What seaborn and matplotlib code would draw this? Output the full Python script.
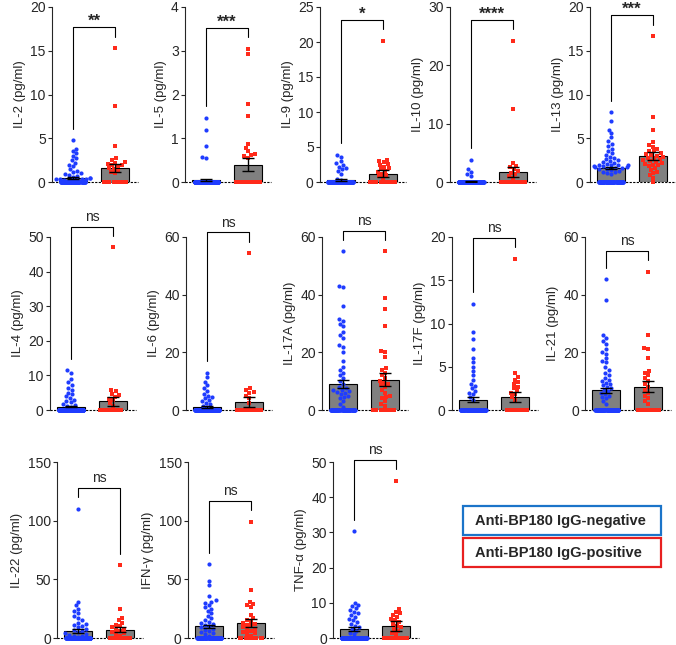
import warnings
import numpy as np
import pandas as pd
import matplotlib
matplotlib.use("Agg")
import matplotlib.pyplot as plt
import seaborn as sns
from matplotlib.patches import Rectangle

warnings.filterwarnings("ignore")
np.random.seed(3)

groups = ["Anti-BP180 IgG-negative", "Anti-BP180 IgG-positive"]

# values per cytokine (zeros + read-off non-zero points)
il2_neg = [0.0]*72 + [4.8, 3.8, 3.6, 3.3, 3.0, 2.7, 2.5, 2.2, 2.0, 1.8, 1.5, 1.3, 1.2, 1.0,
                      0.9, 0.8, 0.7, 0.6, 0.5, 0.5, 0.4, 0.4, 0.3, 0.3, 0.2, 0.2, 0.1, 0.1]
il2_pos = [0.0]*18 + [15.3, 8.7, 4.1, 2.7, 2.5, 2.3, 2.2, 2.1, 2.0, 1.9, 1.8, 1.6, 1.5, 1.3, 1.2, 1.0]
il5_neg = [0.0]*95 + [1.47, 1.18, 0.82, 0.58, 0.55]
il5_pos = [0.0]*24 + [3.05, 2.93, 1.78, 1.52, 0.88, 0.78, 0.70, 0.65, 0.62, 0.60, 0.55]
il9_neg = [0.0]*88 + [3.9, 3.6, 3.0, 2.7, 2.4, 2.2, 2.0, 1.8, 1.6, 1.2, 0.5, 0.3]
il9_pos = [0.0]*20 + [20.2, 3.2, 3.0, 2.8, 2.6, 2.4, 2.2, 2.0, 1.8, 1.6, 1.4, 1.2, 1.0, 0.8, 0.6]
il10_neg = [0.0]*95 + [3.8, 2.3, 1.8, 1.4, 1.0]
il10_pos = [0.0]*24 + [24.2, 12.5, 3.3, 2.8, 2.6, 2.2, 1.9, 1.6, 1.3, 1.0, 0.7]
il13_neg = [0.0]*60 + [8.0, 7.0, 6.0, 5.6, 5.1, 4.7, 4.4, 4.1, 3.8, 3.5, 3.3, 3.1, 2.9, 2.7,
                       2.6, 2.5, 2.4, 2.3, 2.2, 2.1, 2.0, 2.0, 1.9, 1.9, 1.8, 1.8, 1.7, 1.7,
                       1.6, 1.6, 1.5, 1.5, 1.4, 1.3, 1.2, 1.1, 1.0, 0.9]
il13_pos = [0.0]*1 + [16.7, 7.4, 5.9, 4.6, 4.2, 4.0, 3.8, 3.6, 3.5, 3.3, 3.2, 3.1, 3.0, 2.9,
                      2.8, 2.7, 2.6, 2.5, 2.4, 2.3, 2.2, 2.1, 2.0, 1.9, 1.8, 1.6, 1.4, 1.2,
                      1.0, 0.8, 0.5]
il4_neg = [0.0]*82 + [11.5, 10.8, 9.0, 8.0, 7.2, 6.5, 5.8, 5.0, 4.5, 4.0, 3.5, 3.0, 2.6, 2.2,
                      1.8, 1.5, 1.2, 1.0]
il4_pos = [0.0]*25 + [47.0, 5.8, 5.4, 4.7, 4.2, 3.8, 3.3, 2.8, 2.0, 1.2]
il6_neg = [0.0]*84 + [13.0, 11.5, 9.8, 8.5, 7.5, 6.5, 5.5, 5.0, 4.5, 4.0, 3.5, 3.0, 2.5, 2.0, 1.5, 1.0]
il6_pos = [0.0]*27 + [54.5, 7.5, 6.8, 6.2, 5.8, 5.0, 4.0, 2.5]
il17a_neg = [0.0]*64 + [55, 43, 42.5, 36, 31.5, 31, 30, 29, 27, 26, 25, 22.5, 22, 20, 17, 15,
                        14, 13, 12, 11, 10, 9, 8, 7.5, 7, 6.8, 6.5, 6.3, 6, 5.5, 5, 4.5, 4, 3, 2, 1]
il17a_pos = [0.0]*10 + [55, 39, 35, 29, 20.5, 20, 18.5, 14.5, 14, 13, 12, 11, 10, 9.5, 9, 8.5,
                        8, 7, 6, 5, 4.5, 4, 3, 2, 1.5]
il17f_neg = [0.0]*82 + [12.3, 9.0, 8.2, 7.0, 6.0, 5.5, 5.0, 4.5, 4.0, 3.5, 3.0, 2.8, 2.5, 2.2,
                        2.0, 1.8, 1.5, 1.2]
il17f_pos = [0.0]*22 + [17.5, 4.3, 3.8, 3.5, 3.2, 3.0, 2.7, 2.5, 2.2, 2.0, 1.8, 1.5, 1.2]
il21_neg = [0.0]*67 + [45.5, 38, 26, 25, 24, 23, 21, 20, 19.5, 18, 17, 16.5, 15, 14, 13, 12, 11,
                       10.5, 10, 9.5, 9, 8.5, 8, 7.5, 7, 6.5, 6, 5.5, 5, 4.5, 4, 3, 2]
il21_pos = [0.0]*17 + [48, 26, 21.5, 21, 18, 13.5, 13, 12, 11, 10, 9, 8, 7, 6, 5, 4, 3, 2]
il22_neg = [0.0]*76 + [110, 31, 28, 25, 23, 21, 19, 17, 15, 13, 12, 11, 10, 9, 8, 7, 6, 5, 4, 3,
                       2.5, 2, 1.5, 1]
il22_pos = [0.0]*20 + [62, 25, 17, 15, 13, 11, 10, 9, 8, 7, 6, 5, 4, 3, 2]
ifng_neg = [0.0]*72 + [63, 49, 45, 36, 32, 31, 30, 28, 26, 25, 23, 21, 19, 17, 15, 14, 13, 12,
                       11, 10, 9, 8, 7, 6, 5, 4, 3, 2]
ifng_pos = [0.0]*13 + [99, 41, 31, 29, 28, 26, 20, 17, 15, 14, 13, 12, 11, 10, 9, 8, 7, 6, 5, 4, 3, 2]
tnfa_neg = [0.0]*80 + [30.3, 10, 9.5, 9, 8.5, 8, 7.5, 7, 6.5, 6, 5.5, 5, 4.5, 4, 3.5, 3, 2.5, 2, 1.5, 1]
tnfa_pos = [0.0]*19 + [44.7, 8.3, 7.5, 7, 6.5, 6, 5.5, 5, 4.5, 4, 3.5, 3, 2.5, 2, 1.5, 1]

ylabels = ["IL-2 (pg/ml)", "IL-5 (pg/ml)", "IL-9 (pg/ml)", "IL-10 (pg/ml)", "IL-13 (pg/ml)",
           "IL-4 (pg/ml)", "IL-6 (pg/ml)", "IL-17A (pg/ml)", "IL-17F (pg/ml)", "IL-21 (pg/ml)",
           "IL-22 (pg/ml)", "IFN-\u03b3 (pg/ml)", "TNF-\u03b1 (pg/ml)"]
neg_vals = [il2_neg, il5_neg, il9_neg, il10_neg, il13_neg, il4_neg, il6_neg, il17a_neg,
            il17f_neg, il21_neg, il22_neg, ifng_neg, tnfa_neg]
pos_vals = [il2_pos, il5_pos, il9_pos, il10_pos, il13_pos, il4_pos, il6_pos, il17a_pos,
            il17f_pos, il21_pos, il22_pos, ifng_pos, tnfa_pos]
bar_neg = [0.5, 0.05, 0.3, 0.1, 1.6, 1.0, 1.0, 9.0, 1.2, 6.8, 6.0, 10.0, 2.5]
bar_pos = [1.6, 0.4, 1.2, 1.7, 3.0, 2.5, 2.8, 10.5, 1.5, 8.0, 7.0, 13.0, 3.5]
sem_neg = [0.12, 0.02, 0.1, 0.05, 0.17, 0.25, 0.25, 1.5, 0.25, 1.0, 1.5, 1.3, 0.5]
sem_pos = [0.5, 0.14, 0.55, 0.8, 0.45, 1.3, 1.6, 2.3, 0.6, 1.9, 2.0, 3.2, 1.4]
y_max = [20, 4, 25, 30, 20, 50, 60, 60, 20, 60, 150, 150, 50]
y_step = [5, 1, 5, 10, 5, 10, 20, 20, 5, 20, 50, 50, 10]
sig = ["**", "***", "*", "****", "***", "ns", "ns", "ns", "ns", "ns", "ns", "ns", "ns"]

blue = "#1f3cff"
red = "#ff2a1a"

sns.set_style("ticks")
plt.rcParams["font.family"] = ["Liberation Sans", "DejaVu Sans"]

W, H = 676, 645
fig = plt.figure(figsize=(W / 100, H / 100), dpi=100)

lefts = [52, 185, 320, 450, 590, 50, 186, 322, 452, 585, 57, 188, 333]
rows = [(7, 182)] * 5 + [(237, 410)] * 5 + [(462, 638)] * 3
pw = 86

for i in range(13):
    top, bot = rows[i]
    ax = fig.add_axes([lefts[i] / W, (H - bot) / H, pw / W, (bot - top) / H])
    ymax = y_max[i]

    sns.barplot(x=groups, y=[bar_neg[i], bar_pos[i]], order=groups, color="#808080",
                width=0.68, edgecolor="black", linewidth=0.8, errorbar=None,
                ax=ax, zorder=2)

    df = pd.concat([pd.DataFrame({"group": groups[0], "value": neg_vals[i]}),
                    pd.DataFrame({"group": groups[1], "value": pos_vals[i]})])
    zeros = df[df["value"] == 0]
    nonzero = df[df["value"] > 0]
    for g, col, mk in [(groups[0], blue, "o"), (groups[1], red, "s")]:
        # zero values form a dense band across the bar
        sns.stripplot(data=zeros[zeros["group"] == g], x="group", y="value", order=groups,
                      color=col, size=3.2, marker=mk, linewidth=0, jitter=0.3,
                      ax=ax, zorder=3)
        sns.swarmplot(data=nonzero[nonzero["group"] == g], x="group", y="value",
                      order=groups, color=col, size=3.0, marker=mk, linewidth=0,
                      ax=ax, zorder=3)
    for c in ax.collections:
        c.set_clip_on(False)

    ax.errorbar([0, 1], [bar_neg[i], bar_pos[i]], yerr=[sem_neg[i], sem_pos[i]],
                fmt="none", ecolor="black", elinewidth=1, capsize=4, capthick=1, zorder=4)

    ax.axhline(0, color="black", lw=0.8, ls=(0, (2, 1.2)), zorder=1, clip_on=False)

    ax.set_xlim(-0.5, 1.55)
    ax.set_ylim(0, ymax)
    ax.set_yticks(np.arange(0, ymax + y_step[i] / 2, y_step[i]))
    ax.set_xticks([])
    ax.set_xlabel("")
    ax.set_ylabel(ylabels[i], fontsize=9.5, labelpad=3)
    ax.tick_params(axis="y", labelsize=10, length=3, width=0.8, pad=1.5)
    sns.despine(ax=ax, bottom=True)
    ax.spines["left"].set_linewidth(0.8)

    # significance bracket
    m_n = max(neg_vals[i])
    m_p = max(pos_vals[i])
    yb = max(m_n, m_p) + 0.12 * ymax
    ax.plot([0, 0, 1, 1], [m_n + 0.065 * ymax, yb, yb, m_p + 0.065 * ymax],
            color="black", lw=0.8, clip_on=False, zorder=5)
    if sig[i] == "ns":
        ax.text(0.5, yb + 0.015 * ymax, sig[i], ha="center", va="bottom", fontsize=10,
                clip_on=False)
    else:
        ax.text(0.5, yb - 0.01 * ymax, sig[i], ha="center", va="bottom", fontsize=12,
                fontweight="bold", clip_on=False)

# legend boxes
box_x, box_w, box_h = 463, 198, 29
for top, col, lab in [(506, "#1b74c9", groups[0]), (538, "#e82020", groups[1])]:
    fig.patches.append(Rectangle((box_x / W, (H - top - box_h) / H), box_w / W, box_h / H,
                                 transform=fig.transFigure, fill=False, edgecolor=col,
                                 linewidth=1.6))
    fig.text((box_x + 12) / W, (H - top - box_h / 2) / H, lab, ha="left", va="center",
             fontsize=10.5, fontweight="bold")

fig.savefig("out.png", dpi=100)
